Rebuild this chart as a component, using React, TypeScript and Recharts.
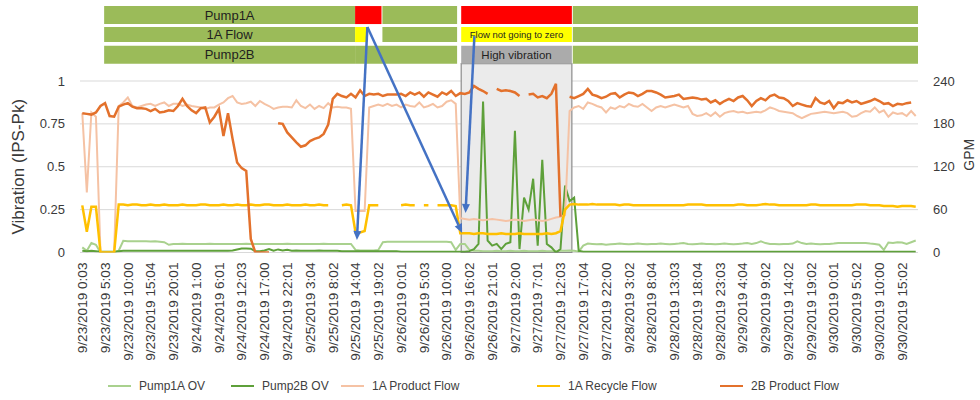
import React from "react";
import {
  LineChart,
  Line,
  XAxis,
  YAxis,
  CartesianGrid,
  ReferenceArea,
  ReferenceLine,
} from "recharts";

// one tick label every 5 hourly samples
const tickLabels = [
  "9/23/2019 0:03", "9/23/2019 5:03", "9/23/2019 10:00", "9/23/2019 15:04", "9/23/2019 20:01",
  "9/24/2019 1:00", "9/24/2019 6:01", "9/24/2019 12:03", "9/24/2019 17:00", "9/24/2019 22:01",
  "9/25/2019 3:04", "9/25/2019 8:02", "9/25/2019 14:04", "9/25/2019 19:02", "9/26/2019 0:01",
  "9/26/2019 5:03", "9/26/2019 10:00", "9/26/2019 16:02", "9/26/2019 21:01", "9/27/2019 2:00",
  "9/27/2019 7:01", "9/27/2019 12:03", "9/27/2019 17:04", "9/27/2019 22:00", "9/28/2019 3:02",
  "9/28/2019 8:04", "9/28/2019 13:03", "9/28/2019 18:04", "9/28/2019 23:03", "9/29/2019 4:04",
  "9/29/2019 9:02", "9/29/2019 14:02", "9/29/2019 19:02", "9/30/2019 0:01", "9/30/2019 5:02",
  "9/30/2019 10:00", "9/30/2019 15:02",
];

// vibration (IPS-Pk)
const pump1AOV = [
  0.03, 0.01, 0.055, 0.045, 0, 0, 0, 0, 0.01, 0.068,
  0.066, 0.065, 0.065, 0.066, 0.065, 0.064, 0.065, 0.063, 0.06, 0.045,
  0.05, 0.05, 0.051, 0.05, 0.05, 0.049, 0.05, 0.05, 0.051, 0.05,
  0.05, 0.05, 0.049, 0.05, 0.05, 0.05, 0.051, 0.05, 0.05, 0.05,
  0.05, 0.049, 0.05, 0.05, 0.05, 0.051, 0.05, 0.05, 0.05, 0.049,
  0.05, 0.05, 0.05, 0.051, 0.05, 0.05, 0.05, 0.049, 0.05, 0.05,
  0.015, 0.012, 0.012, 0.012, 0.012, 0.015, 0.06, 0.062, 0.062, 0.063,
  0.062, 0.062, 0.063, 0.062, 0.062, 0.062, 0.063, 0.062, 0.062, 0.062,
  0.062, 0.06, 0.015, 0.05, 0.05, 0.015, 0.01, 0.01, 0.008, 0.008,
  0.008, 0.01, 0.008, 0.008, 0.01, 0.008, 0.008, 0.01, 0.008, 0.008,
  0.008, 0.01, 0.008, 0.008, 0.008, 0.01, 0.01, 0.012, 0.01, 0.005,
  0.04, 0.052, 0.05, 0.048, 0.05, 0.045, 0.048, 0.05, 0.052, 0.05,
  0.048, 0.05, 0.052, 0.05, 0.048, 0.05, 0.05, 0.052, 0.05, 0.048,
  0.05, 0.052, 0.055, 0.05, 0.048, 0.05, 0.052, 0.05, 0.05, 0.048,
  0.05, 0.052, 0.05, 0.048, 0.05, 0.052, 0.055, 0.05, 0.055, 0.065,
  0.055, 0.05, 0.05, 0.048, 0.05, 0.05, 0.052, 0.065, 0.055, 0.05,
  0.052, 0.05, 0.048, 0.05, 0.05, 0.052, 0.055, 0.055, 0.055, 0.055,
  0.055, 0.055, 0.055, 0.052, 0.05, 0.045, 0.015, 0.058, 0.055, 0.06,
  0.058, 0.05, 0.06, 0.07,
];

const pump2BOV = [
  0.01, 0.008, 0.01, 0.008, 0.005, 0.005, 0.005, 0.005, 0.008, 0.01,
  0.01, 0.01, 0.01, 0.01, 0.01, 0.01, 0.01, 0.01, 0.01, 0.01,
  0.01, 0.01, 0.01, 0.01, 0.01, 0.01, 0.01, 0.01, 0.01, 0.01,
  0.01, 0.01, 0.01, 0.012, 0.018, 0.023, 0.024, 0.022, 0.008, 0.008,
  0.012, 0.02, 0.01, 0.018, 0.012, 0.016, 0.01, 0.012, 0.01, 0.01,
  0.01, 0.01, 0.012, 0.01, 0.01, 0.01, 0.01, 0.008, 0.008, 0.008,
  0.008, 0.008, 0.008, 0.008, 0.008, 0.008, 0.008, 0.008, 0.008, 0.008,
  0.005, 0.005, 0.005, 0.005, 0.005, 0.005, 0.005, 0.005, 0.005, 0.005,
  0.005, 0.005, 0.005, 0.005, 0.005, 0.008, 0.02, 0.05, 0.88, 0.07,
  0.04, 0.05, 0.02, 0.05, 0.06, 0.71, 0.02, 0.32, 0.25, 0.43,
  0.04, 0.54, 0.05, 0.03, 0, 0.02, 0.39, 0.3, 0.32, 0.01,
  0.005, 0.005, 0.005, 0.005, 0.005, 0.005, 0.005, 0.005, 0.005, 0.005,
  0.005, 0.005, 0.005, 0.005, 0.005, 0.005, 0.005, 0.005, 0.005, 0.005,
  0.005, 0.005, 0.005, 0.005, 0.005, 0.005, 0.005, 0.005, 0.005, 0.005,
  0.005, 0.005, 0.005, 0.005, 0.005, 0.005, 0.005, 0.005, 0.005, 0.005,
  0.005, 0.005, 0.005, 0.005, 0.005, 0.005, 0.005, 0.005, 0.005, 0.005,
  0.005, 0.005, 0.005, 0.005, 0.005, 0.005, 0.005, 0.005, 0.005, 0.005,
  0.005, 0.005, 0.005, 0.005, 0.005, 0.005, 0.005, 0.005, 0.005, 0.005,
  0.005, 0.005, 0.005, 0.005,
];

// flows (GPM)
const productFlow1A = [
  195, 84, 196, 190, 0, 0, 0, 0, 205, 210,
  217, 205, 203, 205, 207, 208, 205, 208, 210, 205,
  208, 208, 205, 207, 205, 204, 203, 201, 203, 203,
  207, 210, 216, 219, 210, 208, 209, 211, 205, 212,
  208, 205, 201, 203, 204, 204, 203, 213, 205, 202,
  207, 201, 205, 202, 209, 203, 204, 203, 203, 201,
  58, 58, 58, 203, 205, 207, 205, 208, 205, 207,
  203, 207, 205, 204, 210, 203, 205, 208, 203, 205,
  211, 213, 208, 48, 47, 46, 47, 46, 45, 46,
  47, 46, 45, 44, 45, 46, 45, 44, 45, 46,
  45, 44, 45, 47, 49, 50, 52, 198, 203, 205,
  201, 210, 208, 205, 203, 196, 203, 201, 205, 203,
  208, 205, 204, 208, 203, 198, 203, 205, 203, 205,
  207, 205, 203, 205, 194, 191, 192, 195, 191, 196,
  190, 195, 197, 198, 196, 197, 195, 196, 197, 196,
  199, 203, 201, 198, 197, 196, 195, 191, 188, 191,
  194, 195, 196, 197, 196, 195, 196, 197, 195, 190,
  191, 195, 198, 197, 203, 196, 199, 190, 196, 194,
  195, 191, 198, 191,
];

const recycleFlow1A = [
  66, 29, 64, 64, 0, 0, 0, 0, 67, 67,
  66, 67, 67, 66, 66, 67, 66, 66, 67, 66,
  66, 66, 67, 66, 66, 66, 67, 67, 66, 66,
  66, 67, 66, 66, 67, 66, 66, 67, 66, 66,
  67, 67, 66, 66, 66, 67, 66, 66, 66, 67,
  66, 66, 67, 66, 66, null, null, 66, 67, 66,
  28, 28, 30, 66, 66, 66, null, null, null, null,
  66, 67, 66, 66, null, 66, 66, null, 66, 66,
  66, 66, 65, 27, 27, 27, 26, 27, 27, 26,
  26, 26, 27, 26, 26, 26, 27, 26, 26, 26,
  26, 26, 27, 26, 27, 30, 60, 67, 68, 67,
  67, 67, 68, 67, 67, 67, 67, 67, 66, 67,
  67, 66, 66, 66, 66, 66, 66, 66, 66, 66,
  66, 66, 66, 67, 67, 67, 67, 66, 66, 66,
  66, 66, 66, 66, 67, 67, 66, 66, 66, 67,
  68, 67, 67, 66, 66, 66, 66, 66, 66, 66,
  67, 67, 66, 66, 66, 66, 66, 66, 66, 66,
  67, 67, 67, 66, 66, 66, 65, 65, 65, 64,
  65, 65, 65, 64,
];

const productFlow2B = [
  195, 194, 193, 196, 205, 209, 191, 190, 204, 207,
  209, 204, 202, 202, 201, 198, 201, 196, 197, 199,
  198, 205, 215, 205, 199, 195, 202, 203, 182, 190,
  201, 163, 195, 159, 126, 118, 114, 19, 0, 0,
  0, 0, null, 181, 180, 168, 161, 154, 148, 150,
  156, 159, 161, 166, 179, 215, 222, 219, 217, 222,
  217, 227, 219, 222, 221, 222, 219, 221, 221, 221,
  222, 219, 224, 221, 224, 218, 224, 221, 218, 224,
  221, 226, 219, 223, 222, 224, 233, 229, 226, 222,
  null, 229, 226, 227, 226, 224, 219, null, 221, 222,
  217, 219, 216, 222, 236, 50, null, 218, 216, 219,
  222, 229, 221, 219, 216, 218, 222, 223, 217, 221,
  224, 223, 219, 222, 226, 226, 224, 221, 217, 218,
  219, 221, 215, 216, 217, 216, 214, 215, 210, 213,
  208, 212, 215, 212, 217, 219, 213, 205, 212, 216,
  213, 219, 221, 217, 216, 212, 205, 209, 207, 205,
  204, 216, 210, 208, 212, 202, 210, 209, 213, 210,
  212, 208, 210, 212, 215, 212, 208, 209, 205, 208,
  207, 209, 210, null,
];

const data = pump1AOV.map((v, i) => ({
  i,
  pump1A: v,
  pump2B: pump2BOV[i],
  product1A: productFlow1A[i],
  recycle1A: recycleFlow1A[i],
  product2B: productFlow2B[i],
}));

const xTicks = tickLabels.map((_, k) => k * 5);

const COLORS = {
  pump1A: "#A9D18E",
  pump2B: "#5EA03A",
  product1A: "#F5C2A4",
  recycle1A: "#FFC000",
  product2B: "#E3712C",
};

const GREEN = "#9BBB59";
const RED = "#FF0000";
const YELLOW = "#FFFF00";
const GREY = "#ABABAB";
const FONT = "'Liberation Sans', Arial, sans-serif";
const TEXT = "#3a3a3a";

// status strip above the plot (sample index / vibration units)
type Cell = { from: number; to: number; fill: string; label?: string; size?: number };
const statusRows: { bottom: number; top: number; cells: Cell[] }[] = [
  {
    bottom: 1.332,
    top: 1.437,
    cells: [
      { from: 4.8, to: 59.9, fill: GREEN, label: "Pump1A" },
      { from: 59.9, to: 65.7, fill: RED },
      { from: 65.9, to: 82.3, fill: GREEN },
      { from: 83.2, to: 107.5, fill: RED },
      { from: 107.7, to: 183.5, fill: GREEN },
    ],
  },
  {
    bottom: 1.227,
    top: 1.315,
    cells: [
      { from: 4.8, to: 59.9, fill: GREEN, label: "1A Flow" },
      { from: 59.9, to: 62.7, fill: YELLOW },
      { from: 65.9, to: 82.3, fill: GREEN },
      { from: 83.2, to: 107.5, fill: YELLOW, label: "Flow not going to zero", size: 9.5 },
      { from: 107.7, to: 183.5, fill: GREEN },
    ],
  },
  {
    bottom: 1.101,
    top: 1.206,
    cells: [
      { from: 4.8, to: 59.9, fill: GREEN, label: "Pump2B" },
      { from: 59.9, to: 82.3, fill: GREEN },
      { from: 83.2, to: 107.5, fill: GREY, label: "High vibration", size: 11.5 },
      { from: 107.7, to: 183.5, fill: GREEN },
    ],
  },
];

const arrows = [
  { from: { x: 62.6, y: 1.315 }, to: { x: 60.3, y: 0.073 } },
  { from: { x: 62.6, y: 1.315 }, to: { x: 83.4, y: 0.114 } },
  { from: { x: 86.1, y: 1.262 }, to: { x: 84.15, y: 0.23 } },
];

const legendItems = [
  { name: "Pump1A OV", color: COLORS.pump1A, left: 108 },
  { name: "Pump2B OV", color: COLORS.pump2B, left: 231 },
  { name: "1A Product Flow", color: COLORS.product1A, left: 341 },
  { name: "1A Recycle Flow", color: COLORS.recycle1A, left: 537 },
  { name: "2B Product Flow", color: COLORS.product2B, left: 720 },
];

const XTick = (props: any) => {
  const { x, y, payload } = props;
  return (
    <text
      x={x}
      y={y}
      dy="0.35em"
      textAnchor="end"
      transform={`rotate(-90, ${x}, ${y})`}
      fontSize={13.6}
      fill={TEXT}
      fontFamily={FONT}
    >
      {tickLabels[Math.round(payload.value / 5)]}
    </text>
  );
};

const ArrowShape = (p: any) => {
  const { x1, y1, x2, y2 } = p;
  const a = Math.atan2(y2 - y1, x2 - x1);
  const bx = x2 - 9 * Math.cos(a);
  const by = y2 - 9 * Math.sin(a);
  const pts = [
    [x2, y2],
    [bx + 4 * Math.sin(a), by - 4 * Math.cos(a)],
    [bx - 4 * Math.sin(a), by + 4 * Math.cos(a)],
  ]
    .map((q) => q.join(","))
    .join(" ");
  return (
    <g>
      <line x1={x1} y1={y1} x2={bx} y2={by} stroke="#4472C4" strokeWidth={2.5} />
      <polygon points={pts} fill="#4472C4" />
    </g>
  );
};

const axisTitle = (text: string, dx: number, dy: number, size: number) => (props: any) => {
  const vb = props.viewBox;
  const cx = vb.x + dx;
  const cy = vb.y + vb.height / 2 + dy;
  return (
    <text
      x={cx}
      y={cy}
      transform={`rotate(-90, ${cx}, ${cy})`}
      textAnchor="middle"
      dominantBaseline="central"
      fontSize={size}
      fill={TEXT}
      fontFamily={FONT}
    >
      {text}
    </text>
  );
};

export default function App() {
  return (
    <div
      style={{
        position: "absolute",
        left: 0,
        top: 0,
        width: 980,
        height: 400,
        background: "#fff",
        fontFamily: FONT,
        overflow: "hidden",
      }}
    >
      <LineChart width={980} height={400} data={data} margin={{ top: 81, right: 0, bottom: 0, left: 0 }}>
        <ReferenceArea
          yAxisId="left"
          x1={83.2}
          x2={107.5}
          y1={0}
          y2={1.101}
          fill="#EBEBEB"
          fillOpacity={1}
          stroke="#8C8C8C"
          strokeWidth={1.2}
          ifOverflow="visible"
        />
        <CartesianGrid yAxisId="left" vertical={false} stroke="#D9D9D9" />
        {statusRows.flatMap((row, r) =>
          row.cells.map((c, k) => (
            <ReferenceArea
              key={`s${r}-${k}`}
              yAxisId="left"
              x1={c.from}
              x2={c.to}
              y1={row.bottom}
              y2={row.top}
              fill={c.fill}
              fillOpacity={1}
              stroke="none"
              ifOverflow="visible"
              label={
                c.label
                  ? { value: c.label, position: "center", fontSize: c.size ?? 13, fill: "#1f1f1f", fontFamily: FONT }
                  : undefined
              }
            />
          ))
        )}
        <XAxis
          dataKey="i"
          type="number"
          domain={[-0.5, 183.5]}
          allowDataOverflow
          ticks={xTicks}
          interval={0}
          tick={XTick}
          height={147.5}
          axisLine={false}
          tickLine={false}
          tickSize={6}
          tickMargin={4}
        />
        <YAxis
          yAxisId="left"
          domain={[0, 1]}
          ticks={[0, 0.25, 0.5, 0.75, 1]}
          allowDataOverflow
          width={80}
          axisLine={false}
          tickLine={false}
          tickSize={6}
          tickMargin={9}
          tick={{ fontSize: 13, fill: TEXT, fontFamily: FONT }}
          label={axisTitle("Vibration (IPS-Pk)", 18, 0, 17)}
        />
        <YAxis
          yAxisId="right"
          orientation="right"
          domain={[0, 240]}
          ticks={[0, 60, 120, 180, 240]}
          allowDataOverflow
          width={62}
          axisLine={false}
          tickLine={false}
          tickSize={6}
          tickMargin={9}
          tick={{ fontSize: 13, fill: TEXT, fontFamily: FONT }}
          label={axisTitle("GPM", 51, -12, 14)}
        />
        <Line yAxisId="left" dataKey="pump1A" stroke={COLORS.pump1A} strokeWidth={2} dot={false} isAnimationActive={false} />
        <Line yAxisId="left" dataKey="pump2B" stroke={COLORS.pump2B} strokeWidth={2} dot={false} isAnimationActive={false} />
        <Line yAxisId="right" dataKey="product1A" stroke={COLORS.product1A} strokeWidth={2} dot={false} isAnimationActive={false} />
        <Line yAxisId="right" dataKey="recycle1A" stroke={COLORS.recycle1A} strokeWidth={2.5} dot={false} isAnimationActive={false} />
        <Line yAxisId="right" dataKey="product2B" stroke={COLORS.product2B} strokeWidth={2.5} dot={false} isAnimationActive={false} />
        {arrows.map((a, k) => (
          <ReferenceLine key={`a${k}`} yAxisId="left" segment={[a.from, a.to]} ifOverflow="visible" shape={ArrowShape} />
        ))}
      </LineChart>
      {legendItems.map((it) => (
        <div
          key={it.name}
          style={{
            position: "absolute",
            left: it.left,
            top: 378,
            height: 16,
            display: "flex",
            alignItems: "center",
            fontSize: 12,
            color: "#404040",
            whiteSpace: "nowrap",
          }}
        >
          <span style={{ display: "inline-block", width: 23, height: 2.5, background: it.color, marginRight: 8 }} />
          {it.name}
        </div>
      ))}
    </div>
  );
}
